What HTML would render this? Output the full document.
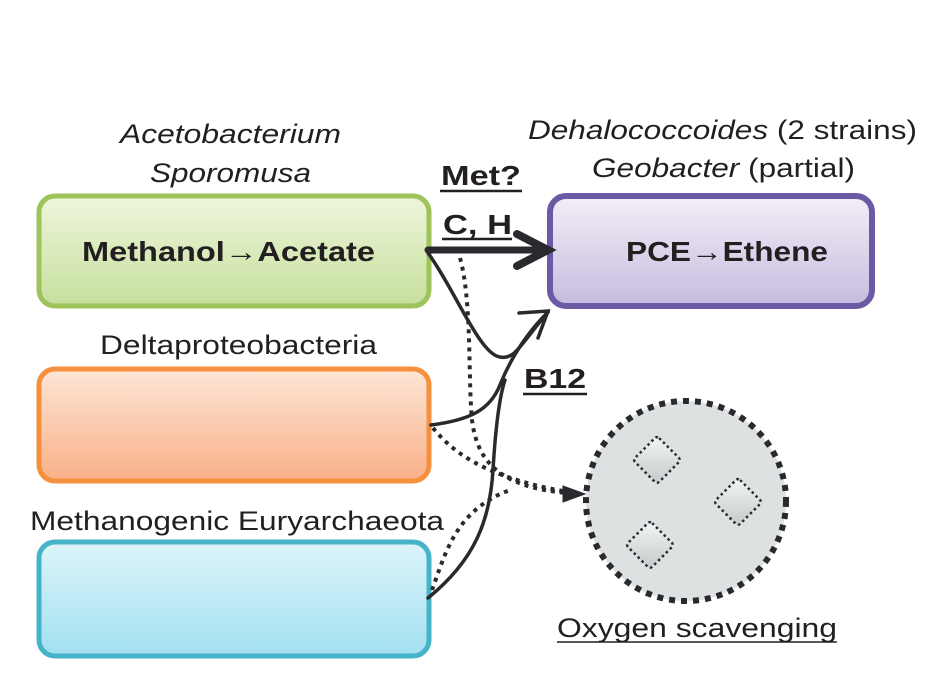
<!DOCTYPE html>
<html><head><meta charset="utf-8"><style>
html,body{margin:0;padding:0;background:#fff;width:936px;height:694px;overflow:hidden}
text{font-family:"Liberation Sans",Arial,sans-serif;fill:#231f20}
</style></head><body>
<svg width="936" height="694" viewBox="0 0 936 694">
<defs>
<linearGradient id="gg" x1="0" y1="0" x2="0" y2="1"><stop offset="0" stop-color="#eef6dc"/><stop offset="1" stop-color="#c6df9c"/></linearGradient>
<linearGradient id="go" x1="0" y1="0" x2="0" y2="1"><stop offset="0" stop-color="#fde6d6"/><stop offset="1" stop-color="#f9b088"/></linearGradient>
<linearGradient id="gc" x1="0" y1="0" x2="0" y2="1"><stop offset="0" stop-color="#ddf4fa"/><stop offset="1" stop-color="#a2e0f0"/></linearGradient>
<linearGradient id="gp" x1="0" y1="0" x2="0" y2="1"><stop offset="0" stop-color="#f3eff7"/><stop offset="1" stop-color="#c7bbdf"/></linearGradient>
<linearGradient id="gd" x1="0" y1="0" x2="1" y2="1"><stop offset="0" stop-color="#f4f6f6"/><stop offset="1" stop-color="#c4c9ca"/></linearGradient>
</defs>
<text x="120" y="143" font-size="27" font-style="italic" textLength="221" lengthAdjust="spacingAndGlyphs">Acetobacterium</text>
<text x="150" y="182" font-size="27" font-style="italic" textLength="161" lengthAdjust="spacingAndGlyphs">Sporomusa</text>
<rect x="39" y="196" width="390" height="110" rx="16" fill="url(#gg)" stroke="#9dc35a" stroke-width="5"/>
<text x="82" y="261" font-size="28" font-weight="bold" textLength="293" lengthAdjust="spacingAndGlyphs">Methanol→Acetate</text>
<text x="100" y="354" font-size="27" textLength="277" lengthAdjust="spacingAndGlyphs">Deltaproteobacteria</text>
<rect x="39" y="369" width="390" height="112" rx="16" fill="url(#go)" stroke="#f5913e" stroke-width="5"/>
<text x="30" y="530" font-size="27" textLength="414" lengthAdjust="spacingAndGlyphs">Methanogenic Euryarchaeota</text>
<rect x="39" y="542" width="390" height="114" rx="16" fill="url(#gc)" stroke="#45b4c8" stroke-width="5"/>
<text x="528" y="139" font-size="27" textLength="389" lengthAdjust="spacingAndGlyphs"><tspan font-style="italic">Dehalococcoides</tspan> (2 strains)</text>
<text x="592" y="177" font-size="27" textLength="263" lengthAdjust="spacingAndGlyphs"><tspan font-style="italic">Geobacter</tspan> (partial)</text>
<rect x="550" y="196" width="322" height="110" rx="16" fill="url(#gp)" stroke="#6a5aa6" stroke-width="6"/>
<text x="626" y="261" font-size="28" font-weight="bold" textLength="202" lengthAdjust="spacingAndGlyphs">PCE→Ethene</text>
<text x="441" y="185" font-size="28" font-weight="bold" textLength="80" lengthAdjust="spacingAndGlyphs">Met?</text>
<line x1="440" y1="191" x2="522" y2="191" stroke="#231f20" stroke-width="2.5"/>
<text x="443" y="234" font-size="28" font-weight="bold" textLength="69" lengthAdjust="spacingAndGlyphs">C, H</text>
<line x1="442" y1="239" x2="512" y2="239" stroke="#231f20" stroke-width="2.5"/>
<text x="524" y="388" font-size="28" font-weight="bold" textLength="62" lengthAdjust="spacingAndGlyphs">B12</text>
<line x1="523" y1="394" x2="587" y2="394" stroke="#231f20" stroke-width="2.5"/>
<g fill="none" stroke="#2a2a2e" stroke-linecap="round">
<line x1="428" y1="250" x2="545" y2="250" stroke-width="7"/>
<path d="M517,234 L548,250 L517,266" stroke-width="8"/>
<path d="M428,253 C455,290 480,355 500,357 C515,360 520,345 548,312" stroke-width="3.5"/>
<path d="M431,425 C470,420 490,410 500,385 C510,360 525,335 548,312" stroke-width="3.5"/>
<path d="M428,598 C475,560 490,520 493,470 C496,420 500,395 505,380" stroke-width="3.5"/>
<path d="M519,313 L548,311 L538,338" stroke-width="3.5"/>
<g stroke-width="4" stroke-dasharray="4 5" stroke-linecap="butt">
<path d="M460,258 C472,300 468,380 472,420 C478,470 510,490 580,494"/>
<path d="M433,428 C455,455 490,480 580,494"/>
<path d="M432,590 C445,555 455,510 510,490"/>
</g>
<path d="M563,486 L585,494 L563,502 Z" fill="#2a2a2e" stroke-width="1"/>
</g>
<g>
<circle cx="686" cy="501" r="100" fill="#dde1e1" stroke="#2a2a2e" stroke-width="6" stroke-dasharray="6 6"/>
<g fill="url(#gd)" stroke="#2a2a2e" stroke-width="2.5" stroke-dasharray="2.5 3">
<rect x="-17" y="-17" width="34" height="34" rx="3" transform="translate(657,460) rotate(45)"/>
<rect x="-17" y="-17" width="34" height="34" rx="3" transform="translate(738,502) rotate(45)"/>
<rect x="-17" y="-17" width="34" height="34" rx="3" transform="translate(650,545) rotate(45)"/>
</g>
</g>
<text x="557" y="637" font-size="27" textLength="280" lengthAdjust="spacingAndGlyphs">Oxygen scavenging</text>
<line x1="557" y1="642" x2="837" y2="642" stroke="#231f20" stroke-width="1.5"/>
</svg>
</body></html>
